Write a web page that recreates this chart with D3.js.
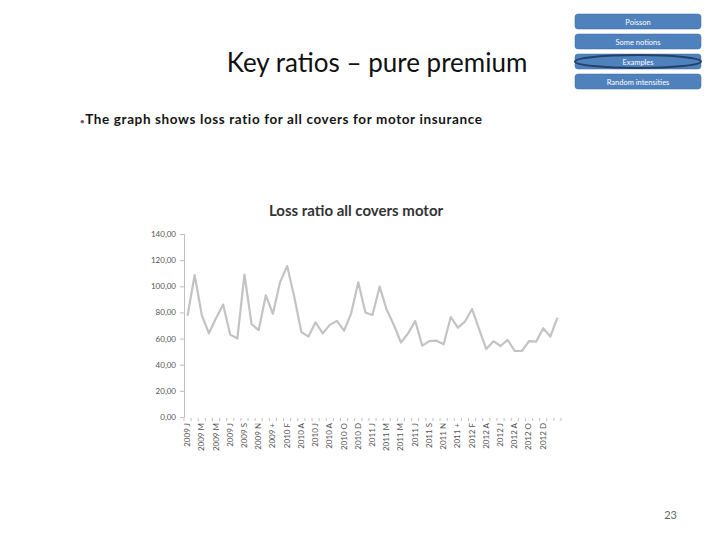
<!DOCTYPE html>
<html>
<head>
<meta charset="utf-8">
<script src="https://cdn.jsdelivr.net/npm/d3@7"></script>
<style>
  body { margin: 0; background: #fff; }
  svg { display: block; font-family: Lato, "Open Sans", sans-serif; }
</style>
</head>
<body>
<svg id="slide" width="720" height="540"></svg>
<script>
// loss ratio per month
var lossRatio = [77.5, 108.6, 78, 64, 75.5, 86, 63, 60, 109, 71,
                 66.5, 93, 79, 103, 115.5, 92, 65, 61.5, 72.5, 64,
                 70.5, 73.5, 66, 79.3, 103, 80, 78, 99.7, 82, 70.4,
                 57, 64, 73.5, 54.6, 58, 58.4, 55.6, 76.5, 68.4, 73,
                 82.6, 67, 52, 58, 54.3, 59, 50.5, 50.5, 58, 57.6,
                 67.9, 61.5, 76];
// one label every second month
var tickLabels = ["2009 J", "2009 M", "2009 M", "2009 J", "2009 S", "2009 N", "2009 +",
                  "2010 F", "2010 A", "2010 J", "2010 A", "2010 O", "2010 D",
                  "2011 J", "2011 M", "2011 M", "2011 J", "2011 S", "2011 N", "2011 +",
                  "2012 F", "2012 A", "2012 J", "2012 A", "2012 O", "2012 D"];
var yTicks = [0, 20, 40, 60, 80, 100, 120, 140];
var navItems = ["Poisson", "Some notions", "Examples", "Random intensities"];
var activeNav = 2;

var svg = d3.select("#slide");

// slide title and bullet
svg.append("text")
    .attr("x", 377).attr("y", 72)
    .attr("text-anchor", "middle")
    .style("font-size", "26px")
    .style("fill", "#111")
    .text("Key ratios \u2013 pure premium");

svg.append("text")
    .attr("x", 80).attr("y", 124)
    .style("font-size", "13.5px")
    .style("font-weight", "bold")
    .style("letter-spacing", "0.62px")
    .style("fill", "#151515")
    .call(function(t) {
        t.append("tspan").style("fill", "#8c4f5f").style("font-size", "8px").text("\u2022");
        t.append("tspan").text("The graph shows loss ratio for all covers for motor insurance");
    });

// navigation buttons
var nav = svg.append("g").attr("class", "nav")
    .selectAll("g")
    .data(navItems)
    .enter().append("g")
    .attr("transform", function(d, i) { return "translate(575," + [14, 34, 54, 74][i] + ")"; });

nav.append("rect")
    .attr("width", 126).attr("height", 15)
    .attr("rx", 3)
    .style("fill", "#4f81bd")
    .style("stroke", "#3f6a9c").style("stroke-width", 0.5);

nav.filter(function(d, i) { return i === activeNav; })
    .append("ellipse")
    .attr("cx", 63).attr("cy", 7.5)
    .attr("rx", 63).attr("ry", 6.5)
    .style("fill", "none")
    .style("stroke", "#24406b").style("stroke-width", 2);

nav.append("text")
    .attr("x", 63).attr("y", 10.5)
    .attr("text-anchor", "middle")
    .style("font-size", "7.5px")
    .style("fill", "#fff")
    .text(function(d) { return d; });

// chart
var plotLeft = 184, plotRight = 561, plotTop = 234, plotBottom = 417;

var x = d3.scaleBand()
    .domain(d3.range(lossRatio.length))
    .range([plotLeft, plotRight]);

var y = d3.scaleLinear()
    .domain([0, 140])
    .range([plotBottom, plotTop]);

svg.append("text")
    .attr("x", 356).attr("y", 216)
    .attr("text-anchor", "middle")
    .style("font-size", "15px")
    .style("font-weight", "bold")
    .style("fill", "#333")
    .text("Loss ratio all covers motor");

var yAxis = svg.append("g")
    .attr("transform", "translate(" + plotLeft + ",0)")
    .call(d3.axisLeft(y).tickValues(yTicks).tickSize(4).tickPadding(4)
        .tickFormat(function(d) { return d3.format(".2f")(d).replace(".", ","); }));
yAxis.select(".domain").style("stroke", "#bfbfbf");
yAxis.selectAll(".tick line").style("stroke", "#bfbfbf");
yAxis.selectAll(".tick text")
    .style("font-family", "Lato, sans-serif")
    .style("font-size", "8px")
    .style("fill", "#555");

// x tick marks at the band edges
var edges = x.domain().map(function(d) { return x(d); }).concat([plotRight]);
svg.append("g").selectAll("line")
    .data(edges)
    .enter().append("line")
    .attr("x1", function(d) { return d; }).attr("x2", function(d) { return d; })
    .attr("y1", plotBottom + 1).attr("y2", plotBottom + 4)
    .style("stroke", "#bfbfbf");

svg.append("g").selectAll("text")
    .data(tickLabels)
    .enter().append("text")
    .attr("transform", function(d, i) {
        return "translate(" + (x(i * 2) + x.bandwidth() / 2 + 2.5) + "," + (plotBottom + 6) + ") rotate(-90)";
    })
    .attr("text-anchor", "end")
    .style("font-size", "8px")
    .style("fill", "#555")
    .text(function(d) { return d; });

var line = d3.line()
    .x(function(d, i) { return x(i) + x.bandwidth() / 2; })
    .y(function(d) { return y(d); });

svg.append("path")
    .datum(lossRatio)
    .attr("d", line)
    .style("fill", "none")
    .style("stroke", "#c3c3c3")
    .style("stroke-width", 2.2)
    .style("stroke-linejoin", "round");

// page number
svg.append("text")
    .attr("x", 677).attr("y", 519)
    .attr("text-anchor", "end")
    .style("font-size", "11px")
    .style("fill", "#666")
    .text("23");
</script>
</body>
</html>
